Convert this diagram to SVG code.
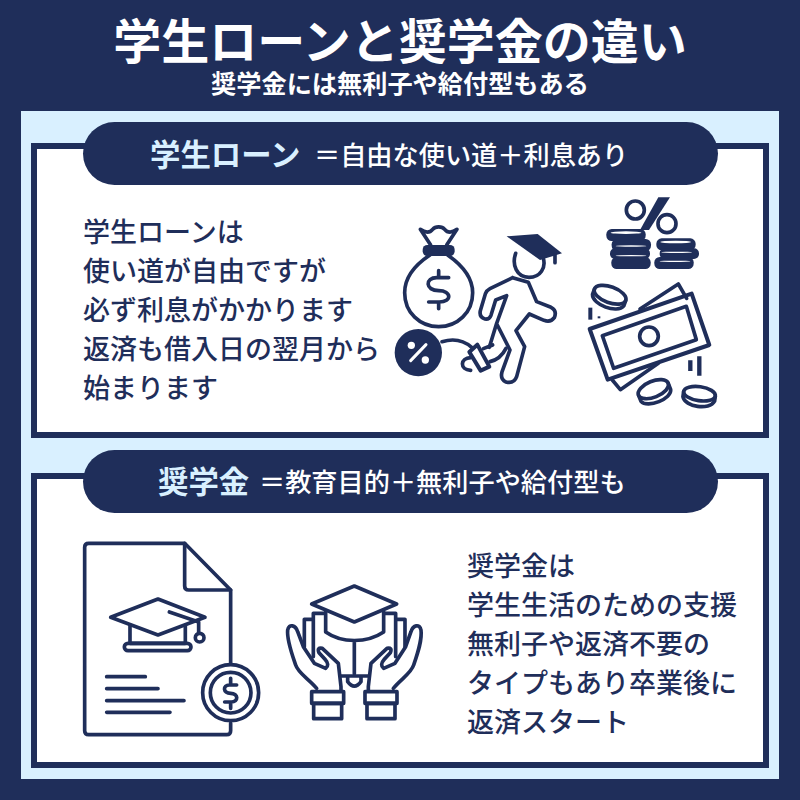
<svg xmlns="http://www.w3.org/2000/svg" width="800" height="800" viewBox="0 0 800 800">
<style>
text{font-family:"Noto Sans CJK JP","Noto Sans CJK SC",sans-serif}
.t{fill:#fff;font-weight:700;text-anchor:middle}
.h1{fill:#d9f0ff;font-size:30.4px;font-weight:700}
.h2{fill:#fff;font-size:26.2px;font-weight:500}
.b{fill:#1f2e5a;font-size:27px;font-weight:500}
.box{fill:#fff;stroke:#1f2e5a;stroke-width:6}
.pill{fill:#1f2e5a}
.i{fill:none;stroke:#1f2e5a;stroke-width:11;stroke-linecap:round;stroke-linejoin:round}
.f{fill:#1f2e5a;stroke:none}
.c{fill:#fff;stroke:#1f2e5a;stroke-width:12;stroke-linejoin:round}
</style>
<rect width="800" height="800" fill="#1f2e5a"/>
<rect x="21" y="111" width="758" height="668" fill="#d9f0ff"/>
<g id="title">
<text class="t" x="400" y="59" font-size="48">学生ローンと奨学金の違い</text>
<text class="t" x="400" y="93" font-size="25.2">奨学金には無利子や給付型もある</text>
</g>
<g id="loan-panel">
<rect class="box" x="34" y="146" width="732" height="289"/>
<rect class="pill" x="83" y="122" width="635" height="63" rx="31.5"/>
<text class="h1" x="150" y="166">学生ローン</text>
<text class="h2" x="314" y="165">＝自由な使い道＋利息あり</text>
<text class="b"><tspan x="83" y="242">学生ローンは</tspan><tspan x="83" y="281">使い道が自由ですが</tspan><tspan x="83" y="320">必ず利息がかかります</tspan><tspan x="83" y="359">返済も借入日の翌月から</tspan><tspan x="83" y="398">始まります</tspan></text>
</g>
<g id="scholarship-panel">
<rect class="box" x="34" y="476" width="732" height="289"/>
<rect class="pill" x="83" y="450" width="635" height="63" rx="31.5"/>
<text class="h1" x="158" y="493">奨学金</text>
<text class="h2" x="259" y="492">＝教育目的＋無利子や給付型も</text>
<text class="b"><tspan x="467" y="576">奨学金は</tspan><tspan x="467" y="615">学生生活のための支援</tspan><tspan x="467" y="654">無利子や返済不要の</tspan><tspan x="467" y="693">タイプもあり卒業後に</tspan><tspan x="467" y="732">返済スタート</tspan></text>
</g>
<g id="icon-student" transform="translate(380,190) scale(.3333)">
<path class="i" d="M150 195C100 228 74 265 74 308C74 368 120 410 176 410C232 410 278 368 278 308C278 265 250 228 203 195"/>
<rect class="f" x="128" y="165" width="96" height="33" rx="14"/>
<path class="i" d="M152 165L121 118C138 130 150 128 158 118C166 108 186 108 194 118C202 128 214 130 231 118L200 165"/>
<path class="i" d="M206 263H170C135 263 135 302 176 302C216 302 216 336 178 336H146M176 242V262M176 337V356"/>
<path class="i" d="M407 190C395 225 410 262 447 262C482 262 498 232 490 205"/>
<path class="f" d="M380 139L473 132L546 190L480 210Z"/>
<path class="i" d="M525 195V218"/>
<path class="i" d="M398 263L330 296Q320 301 316 312L301 362Q297 382 315 387Q328 389 333 376L347 330L380 317L350 400L328 472M398 263L445 277L470 335L513 352Q532 362 523 383Q512 398 492 391L448 372L408 422L434 470L410 560Q402 582 378 576Q360 568 366 546L390 480L352 405"/>
<circle class="f" cx="115" cy="488" r="71"/>
<path d="M92 512L138 464" stroke="#fff" stroke-width="9" stroke-linecap="round" fill="none"/>
<circle cx="94" cy="466" r="11" fill="#fff"/><circle cx="136" cy="510" r="11" fill="#fff"/>
<path class="i" d="M186 455C220 445 250 450 275 472M310 476L338 465M330 515C350 510 368 495 378 475"/>
<path class="c" d="M268 486L292 464L328 530L302 542Z"/>
<path class="i" d="M272 503C240 505 238 538 272 541"/>
</g>
<g id="icon-money" transform="translate(575,185) scale(.3333)">
<circle class="i" cx="181" cy="75" r="27" stroke-width="14"/><circle class="i" cx="276" cy="116" r="27" stroke-width="14"/>
<path class="f" d="M250 37H285L222 135H195Z"/>
<g class="f">
<rect x="94" y="132" width="118" height="36" rx="16"/><rect x="110" y="162" width="118" height="36" rx="16"/><rect x="105" y="190" width="120" height="32" rx="15"/><rect x="109" y="216" width="118" height="36" rx="16"/>
<rect x="244" y="160" width="118" height="36" rx="16"/><rect x="254" y="190" width="118" height="32" rx="15"/><rect x="238" y="216" width="118" height="36" rx="16"/>
</g>
<g fill="#fff"><ellipse cx="153" cy="143" rx="46" ry="4"/><ellipse cx="168" cy="183" rx="46" ry="2"/><ellipse cx="168" cy="212" rx="46" ry="2"/><ellipse cx="302" cy="171" rx="46" ry="4"/><ellipse cx="305" cy="202" rx="46" ry="2"/><ellipse cx="300" cy="229" rx="46" ry="2"/></g>
<g transform="rotate(20 100 338)"><ellipse class="i" cx="102" cy="328" rx="50" ry="24"/><path class="i" d="M52 328V345C62 375 142 375 152 345V328"/></g>
<path d="M46 368V404" stroke="#1f2e5a" stroke-width="12" fill="none"/><path d="M72 394V400" stroke="#1f2e5a" stroke-width="8" fill="none"/>
<path class="c" d="M44 432L350 326L403 480L98 584Z"/>
<path class="i" d="M82 452L334 364L364 464L116 550Z" stroke-width="12"/>
<circle class="i" cx="222" cy="454" r="28" stroke-width="12"/>
<path class="i" d="M195 372L310 297L335 340M112 585L136 614L250 535" stroke-width="12"/>
<path d="M346 526V558M373 514V572" stroke="#1f2e5a" stroke-width="13" fill="none"/>
<g transform="rotate(-22 238 620)"><ellipse class="i" cx="238" cy="612" rx="48" ry="24"/><path class="i" d="M190 612V632C200 660 280 660 286 632V612"/></g>
<g transform="rotate(8 372 630)"><ellipse class="i" cx="373" cy="626" rx="48" ry="21"/><path class="i" d="M325 626V642C335 672 410 672 421 642V626"/></g>
</g>
<g id="icon-document" transform="translate(70,530) scale(.3333)">
<path class="i" stroke-width="12" d="M482 400V180L344 40H56Q44 40 44 52V602Q44 614 56 614H470Q482 614 482 602V580"/>
<path class="i" d="M344 40V168Q344 180 356 180H482"/>
<path class="i" d="M264 207L405 262L264 315L122 262Z"/>
<path class="i" d="M180 285V340M346 285V340M180 340H346"/>
<rect class="i" x="163" y="340" width="200" height="22" rx="11"/>
<path class="i" d="M298 246L386 276V310"/><circle class="i" cx="389" cy="323" r="13"/>
<circle class="i" cx="482" cy="488" r="84"/><circle class="i" cx="482" cy="488" r="61"/>
<path class="i" d="M500 465H478C458 465 458 490 482 490C506 490 506 516 484 516H464M482 445V462M482 518V535"/>
<path class="i" d="M110 440H226M110 476H264M110 512H342M110 547H300"/>
</g>
<g id="icon-hands" transform="translate(275,570) scale(.3333)">
<path class="i" d="M238 48L365 102L238 156L110 102Z"/>
<path class="i" d="M152 125V186C200 220 276 220 326 186V125M238 215V312"/>
<path class="i" d="M146 130H115V260M330 130H362V260M115 148H88V230M362 148H390V230"/>
<path class="i" d="M125 355C100 325 70 310 62 285C50 250 35 210 38 180C42 160 62 165 68 185L85 230L118 280L152 295Q165 285 150 268L132 248Q125 232 142 235L190 280L198 350V362"/>
<path class="i" d="M355 355C380 325 408 310 416 285C428 250 442 210 438 180C434 160 414 165 408 185L392 230L360 280L326 295Q313 285 328 268L346 248Q353 232 336 235L288 280L280 350V362"/>
<path class="i" d="M198 318H280M218 320V335Q238 362 258 335V320"/>
<rect class="i" x="110" y="365" width="96" height="35"/><rect class="i" x="116" y="400" width="84" height="46"/>
<rect class="i" x="270" y="365" width="96" height="35"/><rect class="i" x="276" y="400" width="84" height="46"/>
</g>
</svg>
